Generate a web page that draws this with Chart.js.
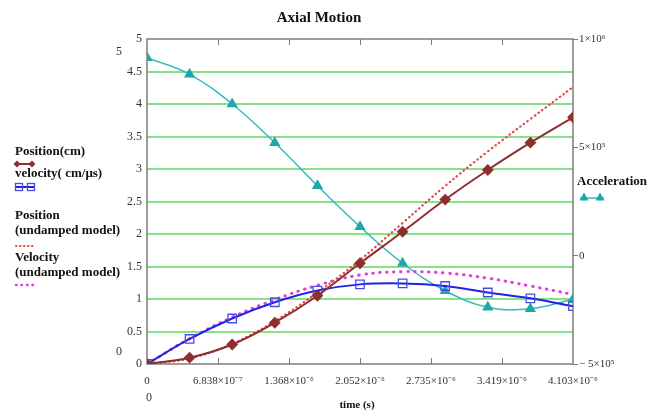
<!DOCTYPE html>
<html>
<head>
<meta charset="utf-8">
<script src="https://cdn.jsdelivr.net/npm/chart.js@4/dist/chart.umd.min.js"></script>
<style>
html,body{margin:0;padding:0;background:#fff;}
#wrap{position:relative;width:650px;height:411px;}
</style>
</head>
<body>
<div id="wrap"><canvas id="c" width="650" height="411"></canvas></div>
<script>
// ---- data ----
const sampleTimes = [0, 4.103e-7, 8.206e-7, 1.2309e-6, 1.6412e-6, 2.0515e-6, 2.4618e-6, 2.8721e-6, 3.2824e-6, 3.6927e-6, 4.103e-6];
const position = [0, 0.097, 0.30, 0.635, 1.05, 1.55, 2.035, 2.53, 2.985, 3.405, 3.795];
const velocity = [0, 0.385, 0.70, 0.95, 1.13, 1.225, 1.24, 1.20, 1.10, 1.01, 0.89];
const positionUndamped = [0, 0.085, 0.31, 0.66, 1.10, 1.60, 2.17, 2.74, 3.27, 3.77, 4.26];
const velocityUndamped = [0, 0.39, 0.72, 0.99, 1.21, 1.37, 1.42, 1.40, 1.32, 1.20, 1.07];
const acceleration = [914000, 837000, 700000, 521000, 323000, 134000, -35000, -162000, -238000, -245000, -201000];

const timeTicks = [0, 6.838e-7, 1.368e-6, 2.052e-6, 2.735e-6, 3.419e-6, 4.103e-6];
const timeTickLabels = ['0', '6.838×10⁻⁷', '1.368×10⁻⁶', '2.052×10⁻⁶', '2.735×10⁻⁶', '3.419×10⁻⁶', '4.103×10⁻⁶'];
const leftTicks = [0, 0.5, 1, 1.5, 2, 2.5, 3, 3.5, 4, 4.5, 5];
const leftTickLabels = ['0', '0.5', '1', '1.5', '2', '2.5', '3', '3.5', '4', '4.5', '5'];
const rightTicks = [-500000, 0, 500000, 1000000];
const rightTickLabels = ['− 5×10⁵', '0', '5×10⁵', '1×10⁶'];

const titleText = 'Axial Motion';
const xTitle = 'time (s)';

// ---- styles ----
const C = {
  pos: '#8e2f2f', vel: '#2222e6', velPt: '#4a4ae6', acc: '#3bb8bf', accPt: '#1fa8aa',
  posU: '#e2474a', velU: '#dd3fdd', grid: '#84e384', frame: '#7d7d7d', text: '#333333'
};
const pts = arr => arr.map((v, i) => ({x: sampleTimes[i], y: v}));

const decor = {
  id: 'decor',
  beforeDatasetsDraw(chart) {
    const {ctx, chartArea: a, scales} = chart;
    ctx.save();
    ctx.strokeStyle = C.frame; ctx.lineWidth = 1.5;
    ctx.strokeRect(a.left, a.top, a.right - a.left, a.bottom - a.top);
    ctx.lineWidth = 1;
    scales.x.ticks.forEach(t => {
      const px = Math.round(scales.x.getPixelForValue(t.value)) + 0.5;
      if (px < a.left + 2 || px > a.right - 2) return;
      ctx.beginPath();
      ctx.moveTo(px, a.bottom); ctx.lineTo(px, a.bottom - 6);
      ctx.moveTo(px, a.top); ctx.lineTo(px, a.top + 6);
      ctx.stroke();
    });
    ctx.restore();
  },
  afterDraw(chart) {
    const {ctx} = chart;
    ctx.save();
    ctx.fillStyle = '#111';
    ctx.textBaseline = 'middle';
    ctx.textAlign = 'center';
    ctx.font = 'bold 15px "Liberation Serif", serif';
    ctx.fillText(titleText, 319, 18);
    ctx.font = 'bold 11px "Liberation Serif", serif';
    ctx.fillText(xTitle, 357, 405);
    ctx.font = '12px "Liberation Serif", serif';
    ctx.fillStyle = C.text;
    ctx.fillText('0', 149, 398);
    ctx.fillText('5', 119, 52);
    ctx.fillText('0', 119, 352);

    // legend texts
    ctx.fillStyle = '#111';
    ctx.textAlign = 'left';
    ctx.font = 'bold 13px "Liberation Serif", serif';
    ctx.fillText('Position(cm)', 15, 152);
    ctx.fillText('velocity( cm/μs)', 15, 174);
    ctx.fillText('Position', 15, 216);
    ctx.fillText('(undamped model)', 15, 231);
    ctx.fillText('Velocity', 15, 258);
    ctx.fillText('(undamped model)', 15, 273);
    ctx.fillText('Acceleration', 577, 182);

    // legend samples
    const seg = (x1, x2, y, color, w, dash) => {
      ctx.save(); ctx.strokeStyle = color; ctx.lineWidth = w;
      if (dash) { ctx.setLineDash(dash); ctx.lineCap = 'round'; }
      ctx.beginPath(); ctx.moveTo(x1, y); ctx.lineTo(x2, y); ctx.stroke(); ctx.restore();
    };
    const diamond = (x, y, r, c) => { ctx.fillStyle = c; ctx.beginPath(); ctx.moveTo(x, y - r); ctx.lineTo(x + r, y); ctx.lineTo(x, y + r); ctx.lineTo(x - r, y); ctx.closePath(); ctx.fill(); };
    const square = (x, y, r, c) => { ctx.strokeStyle = c; ctx.lineWidth = 1.3; ctx.strokeRect(x - r, y - r, 2 * r, 2 * r); };
    const tri = (x, y, r, c) => { ctx.fillStyle = c; ctx.beginPath(); ctx.moveTo(x, y - r); ctx.lineTo(x + r, y + r * 0.8); ctx.lineTo(x - r, y + r * 0.8); ctx.closePath(); ctx.fill(); };
    seg(16, 33, 164, C.pos, 2); diamond(17, 164, 3.5, C.pos); diamond(32, 164, 3.5, C.pos);
    seg(16, 34, 187, C.vel, 2); square(19, 187, 3.5, C.velPt); square(31, 187, 3.5, C.velPt);
    seg(16, 35, 246, C.posU, 2, [0.5, 3.5]);
    seg(16, 33, 285, C.velU, 2.5, [0.5, 5]);
    seg(580, 604, 198, C.acc, 1.5); tri(584, 197, 4.5, C.accPt); tri(600, 197, 4.5, C.accPt);
    ctx.restore();
  }
};

new Chart(document.getElementById('c'), {
  type: 'line',
  data: {
    datasets: [
      { label: 'Acceleration', data: pts(acceleration), yAxisID: 'y1', borderColor: C.acc, borderWidth: 1.5,
        pointStyle: 'triangle', pointRadius: 5, pointBackgroundColor: C.accPt, pointBorderColor: C.accPt, tension: 0.4, order: 5 },
      { label: 'Velocity (undamped model)', data: pts(velocityUndamped), yAxisID: 'y', borderColor: C.velU, borderWidth: 3,
        borderDash: [0.5, 6.5], borderCapStyle: 'round', pointRadius: 0, tension: 0.4, order: 4 },
      { label: 'Position (undamped model)', data: pts(positionUndamped), yAxisID: 'y', borderColor: C.posU, borderWidth: 2.2,
        borderDash: [0.5, 4], borderCapStyle: 'round', pointRadius: 0, tension: 0.4, order: 3 },
      { label: 'velocity( cm/μs)', data: pts(velocity), yAxisID: 'y', borderColor: C.vel, borderWidth: 2,
        pointStyle: 'rect', pointRadius: 6, pointBackgroundColor: 'rgba(255,255,255,0)', pointBorderColor: C.velPt, pointBorderWidth: 1.3, tension: 0.4, order: 2 },
      { label: 'Position(cm)', data: pts(position), yAxisID: 'y', borderColor: C.pos, borderWidth: 2,
        pointStyle: 'rectRot', pointRadius: 4.5, pointBackgroundColor: C.pos, pointBorderColor: C.pos, tension: 0.4, order: 1 }
    ]
  },
  options: {
    responsive: false, animation: false, devicePixelRatio: 1,
    layout: { padding: { top: 39, left: 0, right: 0, bottom: 0 } },
    plugins: { legend: { display: false }, tooltip: { enabled: false }, title: { display: false } },
    scales: {
      x: {
        type: 'linear', min: 0, max: 4.103e-6,
        afterBuildTicks: s => { s.ticks = timeTicks.map(v => ({ value: v })); },
        afterFit: s => { s.height = 47; },
        grid: { display: false, drawTicks: false },
        border: { display: false },
        ticks: { autoSkip: false, maxRotation: 0, padding: 11, color: C.text,
          font: { family: '"Liberation Serif", serif', size: 11 },
          callback: (v, i) => timeTickLabels[i] }
      },
      y: {
        position: 'left', min: 0, max: 5,
        afterBuildTicks: s => { s.ticks = leftTicks.map(v => ({ value: v })); },
        afterFit: s => { s.width = 147; },
        grid: { drawTicks: false, lineWidth: 2,
          color: c => (c.tick && c.tick.value > 0 && c.tick.value < 5) ? C.grid : 'rgba(0,0,0,0)' },
        border: { display: false },
        ticks: { padding: 5, color: C.text, font: { family: '"Liberation Serif", serif', size: 12 },
          callback: (v, i) => leftTickLabels[i] }
      },
      y1: {
        position: 'right', min: -500000, max: 1000000,
        afterBuildTicks: s => { s.ticks = rightTicks.map(v => ({ value: v })); },
        afterFit: s => { s.width = 77; },
        grid: { drawOnChartArea: false, drawTicks: true, tickLength: 5, color: C.frame },
        border: { display: false },
        ticks: { padding: 1, color: C.text, font: { family: '"Liberation Serif", serif', size: 11 },
          callback: (v, i) => rightTickLabels[i] }
      }
    }
  },
  plugins: [decor]
});
</script>
</body>
</html>
